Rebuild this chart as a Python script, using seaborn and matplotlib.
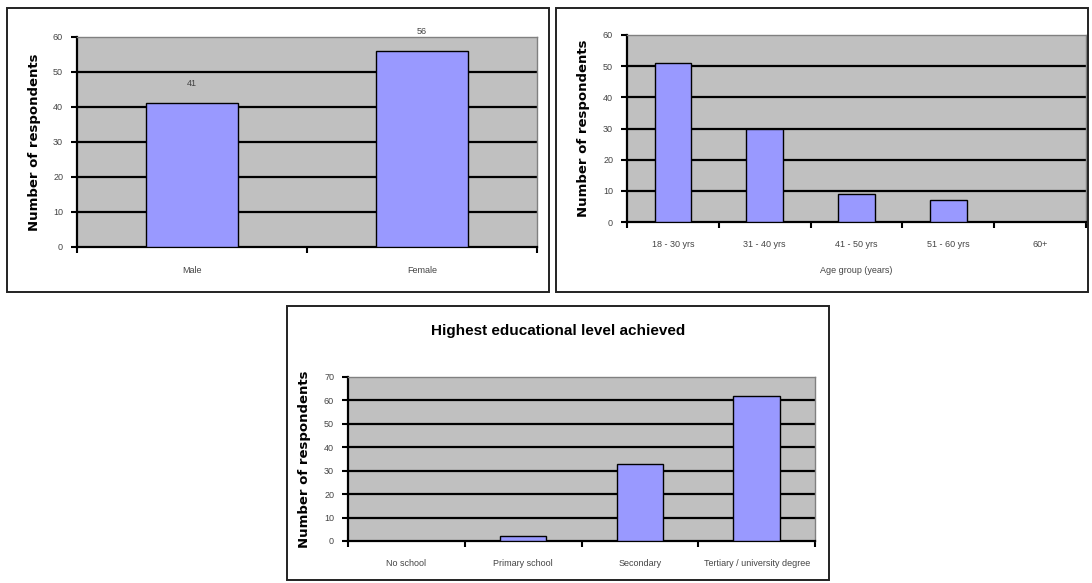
import matplotlib
matplotlib.use("Agg")
import matplotlib.pyplot as plt
from matplotlib.patches import Rectangle
import seaborn as sns
import pandas as pd
import numpy as np

# Survey respondent counts
gender_labels = ["Male", "Female"]
gender_counts = [41, 56]

age_labels = ["18 - 30 yrs", "31 - 40 yrs", "41 - 50 yrs", "51 - 60 yrs", "60+"]
age_counts = [51, 30, 9, 7, 0]
age_title = "Age group (years)"

edu_labels = ["No school", "Primary school", "Secondary", "Tertiary / university degree"]
edu_counts = [0, 2, 33, 62]
edu_title = "Highest educational level achieved"

ylabel_text = "Number of respondents"

sns.set_theme(style="white")
plt.rcParams["font.family"] = ["Liberation Sans", "DejaVu Sans"]

W, H = 1092, 583
fig = plt.figure(figsize=(W / 100, H / 100), dpi=100)
fig.patch.set_facecolor("white")

BAR = "#9999FF"
PLOT_BG = "#C0C0C0"
TXT = "#444444"


def px_rect(left, top, right, bottom):
    return [left / W, 1 - bottom / H, (right - left) / W, (bottom - top) / H]


def frame(left, top, right, bottom):
    fig.patches.append(Rectangle((left / W, 1 - bottom / H), (right - left) / W,
                                 (bottom - top) / H, transform=fig.transFigure,
                                 fill=False, edgecolor="#222222", linewidth=1.4))


def draw_panel(rect, labels, counts, ymax, ylabel_x, label_pad, xtitle=None,
               show_values=False):
    ax = fig.add_axes(rect)
    df = pd.DataFrame({"category": labels, "count": counts})
    sns.barplot(data=df, x="category", y="count", ax=ax, color=BAR,
                saturation=1, edgecolor="black", linewidth=1.0, width=0.4,
                zorder=3)
    n = len(labels)
    ax.set_facecolor(PLOT_BG)
    ax.set_xlim(-0.5, n - 0.5)
    ax.set_ylim(0, ymax)
    yt = np.arange(0, ymax + 1, 10)
    ax.set_yticks(yt)
    ax.set_yticklabels([str(v) for v in yt], fontsize=6.5, color=TXT)
    for v in yt[1:-1]:
        ax.axhline(v, color="black", linewidth=1.6, zorder=1)
    # category labels centred, tick marks on the category boundaries
    ax.set_xticks(range(n))
    ax.set_xticklabels(labels, fontsize=6.5, color=TXT)
    ax.set_xticks(np.arange(-0.5, n, 1.0), minor=True)
    ax.tick_params(axis="x", which="major", length=0, pad=label_pad)
    ax.tick_params(axis="x", which="minor", length=4, width=1.5, color="black",
                   direction="out", bottom=True)
    ax.tick_params(axis="y", which="major", length=4, width=1.5, color="black",
                   direction="out", left=True, pad=6)
    for side in ("top", "right"):
        ax.spines[side].set_color("#808080")
        ax.spines[side].set_linewidth(1.0)
    for side in ("left", "bottom"):
        ax.spines[side].set_color("black")
        ax.spines[side].set_linewidth(1.6)
    ax.set_ylabel(ylabel_text, fontsize=9.5, fontweight="heavy",
                  family=["DejaVu Sans"], color="black")
    ax.yaxis.set_label_coords(ylabel_x, 0.5)
    if xtitle:
        ax.set_xlabel(xtitle, fontsize=6.5, color=TXT, labelpad=12)
    else:
        ax.set_xlabel("")
    if show_values:
        for i, c in enumerate(counts):
            ax.annotate(str(c), (i, c), xytext=(0, 11), textcoords="offset points",
                        ha="center", va="bottom", fontsize=6.5, color=TXT)
    return ax


# panel frames
frame(7, 8, 549, 292)
frame(556, 8, 1088, 292)
frame(287, 306, 829, 580)

draw_panel(px_rect(77, 37, 537, 247), gender_labels, gender_counts, 60,
           -0.078, 14, show_values=True)
draw_panel(px_rect(627, 35, 1086, 222), age_labels, age_counts, 60,
           -0.081, 13, xtitle=age_title)
draw_panel(px_rect(348, 377, 815, 541), edu_labels, edu_counts, 70,
           -0.079, 13)

fig.text((287 + 829) / 2 / W, 1 - 331 / H, edu_title, ha="center", va="center",
         fontsize=11, fontweight="bold", color="black")

fig.savefig("out.png", dpi=100, facecolor="white")
